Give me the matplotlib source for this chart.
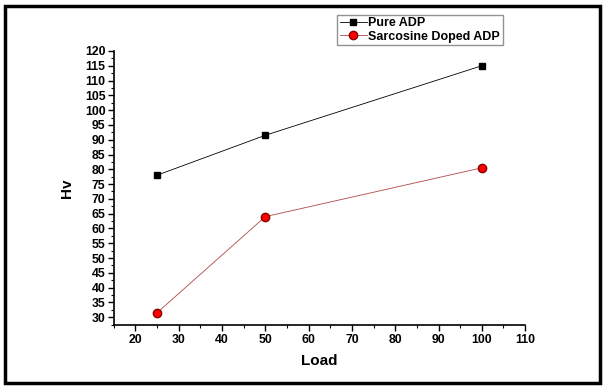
import matplotlib
matplotlib.use("Agg")
import matplotlib.pyplot as plt
from matplotlib.patches import Rectangle
from matplotlib.ticker import MultipleLocator

load = [25, 50, 100]
pure_adp = [78, 91.5, 115]
sarcosine_adp = [31.5, 64, 80.5]

plt.rcParams['font.family'] = ['Liberation Sans', 'DejaVu Sans']

fig = plt.figure(figsize=(6.05, 3.89), dpi=100)
ax = fig.add_axes([0.188, 0.164, 0.680, 0.705])

ax.plot(load, pure_adp, color="black", lw=0.6, marker="s", ms=5,
        mfc="black", mec="black", label="Pure ADP")
ax.plot(load, sarcosine_adp, color="#b04848", lw=0.6, marker="o", ms=6,
        mfc="red", mec="#8b0000", label="Sarcosine Doped ADP")

ax.set_xlim(15, 110)
ax.set_ylim(27.3, 120)
ax.xaxis.set_minor_locator(MultipleLocator(5))
ax.yaxis.set_minor_locator(MultipleLocator(2.5))
ax.set_xticks(range(20, 111, 10))
ax.set_yticks(range(30, 121, 5))

for side in ("top", "right"):
    ax.spines[side].set_visible(False)
for side in ("left", "bottom"):
    ax.spines[side].set_linewidth(1.2)
ax.tick_params(which="major", length=4, width=1, labelsize=8.8, pad=2)
ax.tick_params(which="minor", length=2, width=0.8)
for lbl in ax.get_xticklabels() + ax.get_yticklabels():
    lbl.set_fontweight("bold")

ax.set_xlabel("Load", fontsize=11, fontweight="bold", labelpad=6)
ax.set_ylabel("Hv", fontsize=11, fontweight="bold", labelpad=8)

leg = ax.legend(loc="upper left", bbox_to_anchor=(337 / 605, 1 - 15 / 389),
                bbox_transform=fig.transFigure, fontsize=9,
                frameon=True, fancybox=False, borderpad=0.2, labelspacing=0.1,
                handlelength=2.2, handletextpad=0.1, borderaxespad=0)
leg.get_frame().set_edgecolor("#777777")
leg.get_frame().set_linewidth(1)
for t in leg.get_texts():
    t.set_fontweight("bold")

fig.patches.append(Rectangle((5 / 605, 6 / 389), 595 / 605, 377 / 389,
                             transform=fig.transFigure, fill=False,
                             edgecolor="black", lw=2.5))

fig.savefig("out.png", dpi=100)
